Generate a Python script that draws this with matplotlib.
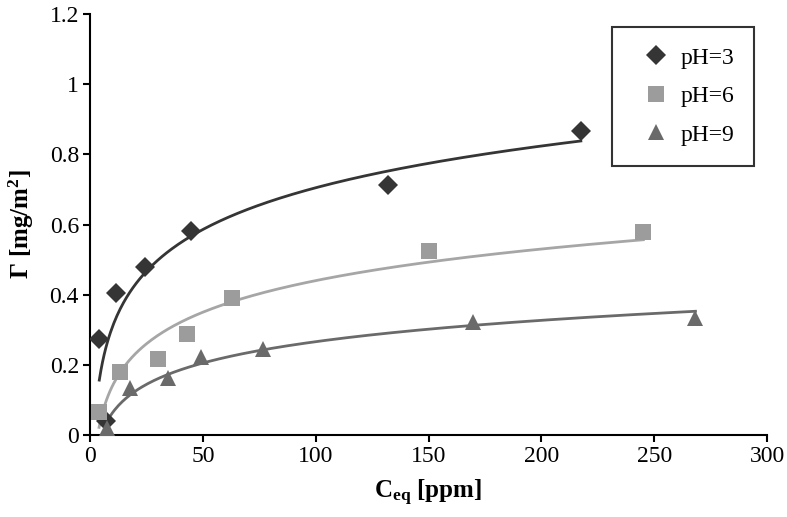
import numpy as np
import matplotlib
matplotlib.use("Agg")
import matplotlib.pyplot as plt
from matplotlib.ticker import FuncFormatter

# Données
ceq_ph3 = [4.1, 7.1, 11.4, 24.5, 44.7, 132.2, 217.5]
gamma_ph3 = [0.273, 0.040, 0.406, 0.480, 0.582, 0.712, 0.867]

ceq_ph6 = [4.0, 13.3, 30.0, 42.8, 63.1, 150.2, 245.2]
gamma_ph6 = [0.066, 0.179, 0.216, 0.288, 0.391, 0.525, 0.578]

ceq_ph9 = [7.4, 17.7, 34.7, 49.2, 76.8, 169.5, 268.3]
gamma_ph9 = [0.019, 0.133, 0.162, 0.221, 0.245, 0.323, 0.333]

labels = ["pH=3", "pH=6", "pH=9"]

plt.rcParams["font.family"] = ["Liberation Serif", "DejaVu Serif"]
plt.rcParams["mathtext.fontset"] = "custom"
plt.rcParams["mathtext.rm"] = "Liberation Serif"
plt.rcParams["mathtext.bf"] = "Liberation Serif:bold"

fig = plt.figure(figsize=(7.87, 5.17), dpi=100)
ax = fig.add_axes([0.1144, 0.1586, 0.8602, 0.8143])

series = [
    (ceq_ph3, gamma_ph3, "D", "#353535", "#353535", 10.5),
    (ceq_ph6, gamma_ph6, "s", "#9c9c9c", "#a6a6a6", 11.5),
    (ceq_ph9, gamma_ph9, "^", "#6a6a6a", "#6a6a6a", 12),
]

for (x, y, mk, mcol, lcol, ms), lab in zip(series, labels):
    x = np.array(x)
    y = np.array(y)
    # tendance logarithmique (type Excel)
    a, b = np.polyfit(np.log(x), y, 1)
    xf = np.linspace(x.min(), x.max(), 300)
    ax.plot(xf, a * np.log(xf) + b, color=lcol, linewidth=2, zorder=2)
    ax.plot(x, y, linestyle="none", marker=mk, markersize=ms, color=mcol,
            markeredgewidth=0, label=lab, zorder=3)

ax.set_xlim(0, 300)
ax.set_ylim(0, 1.2)
ax.set_xticks(np.arange(0, 301, 50))
ax.set_yticks(np.arange(0, 1.21, 0.2))
ax.yaxis.set_major_formatter(FuncFormatter(lambda v, p: f"{v:g}"))

for side in ["top", "right"]:
    ax.spines[side].set_visible(False)
for side in ["left", "bottom"]:
    ax.spines[side].set_linewidth(1.5)
ax.tick_params(direction="out", length=5, width=1.5, labelsize=17, pad=3)

ax.set_xlabel(r"$\mathbf{C_{eq}}$ [ppm]", fontsize=18, fontweight="bold", labelpad=8)
ax.set_ylabel(r"Γ [mg/m$\mathbf{^2}$]", fontsize=18, fontweight="bold", labelpad=10)

leg = ax.legend(loc="upper right", bbox_to_anchor=(0.981, 0.969), fontsize=17,
                frameon=True, fancybox=False, edgecolor="black", handletextpad=0.05,
                borderpad=0.85, labelspacing=0.72, handlelength=2.0, borderaxespad=0)
leg.get_frame().set_linewidth(1.5)

plt.savefig("out.png", dpi=100)
plt.close()
